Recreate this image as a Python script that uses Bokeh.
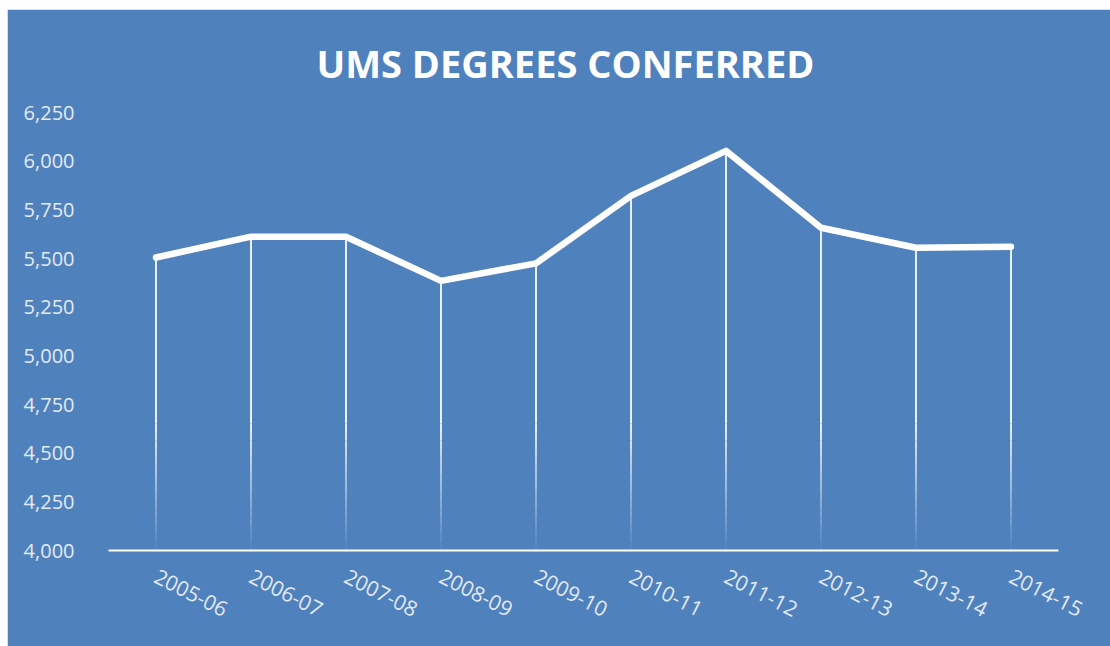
import numpy as np
from bokeh.plotting import figure
from bokeh.models import (ColumnDataSource, Range1d, FixedTicker, NumeralTickFormatter)
from bokeh.embed import file_html
from bokeh.resources import INLINE

# ---- data ----
years = ["2005-06", "2006-07", "2007-08", "2008-09", "2009-10",
         "2010-11", "2011-12", "2012-13", "2013-14", "2014-15"]
degrees = [5505, 5612, 5612, 5385, 5475, 5822, 6053, 5658, 5555, 5561]
y_ticks = [4000, 4250, 4500, 4750, 5000, 5250, 5500, 5750, 6000, 6250]
title_text = "UMS DEGREES CONFERRED"

BG = "#4F81BD"
LABEL = "#e4eaf3"
FONT = "Open Sans"

y_min, y_max = y_ticks[0], y_ticks[-1]

p = figure(x_range=years, y_range=Range1d(y_min, y_max),
           width=1103, height=637, output_backend="svg", toolbar_location=None,
           min_border_left=101, min_border_right=52, min_border_top=103, min_border_bottom=96)
p.margin = (9, 0, 0, 7)
p.background_fill_color = BG
p.border_fill_color = BG
p.outline_line_color = BG
p.outline_line_width = 2
p.xgrid.grid_line_color = None
p.ygrid.grid_line_color = None

# title
p.title.text = title_text
p.title.align = "left"
p.title.offset = 208
p.title.standoff = 47
p.title.text_color = "white"
p.title.text_font = FONT
p.title.text_font_style = "bold"
p.title.text_font_size = "38px"

# drop lines: solid upper part, fading lower part
fade_top = y_min + 0.29 * (y_max - y_min)
p.segment(x0=years, y0=degrees, x1=years, y1=[fade_top] * len(years),
          line_color="white", line_alpha=0.88, line_width=2)
levels = np.linspace(fade_top, y_min, 16)
alphas = np.linspace(0.85, 0.05, len(levels) - 1)
xs, y0s, y1s, als = [], [], [], []
for yr in years:
    for i in range(len(levels) - 1):
        xs.append(yr)
        y0s.append(levels[i])
        y1s.append(levels[i + 1])
        als.append(alphas[i])
fsrc = ColumnDataSource(dict(x=xs, y0=y0s, y1=y1s, a=als))
p.segment(x0="x", y0="y0", x1="x", y1="y1", source=fsrc,
          line_color="white", line_alpha="a", line_width=2, line_cap="butt")

# main line
p.line(years, degrees, line_color="white", line_width=6.5,
       line_cap="round", line_join="round")

# axes
p.yaxis.ticker = FixedTicker(ticks=y_ticks)
p.yaxis.formatter = NumeralTickFormatter(format="0,0")
p.yaxis.axis_line_color = None
p.yaxis.major_tick_line_color = None
p.yaxis.minor_tick_line_color = None
p.yaxis.major_label_standoff = 28
p.yaxis.major_label_text_color = LABEL
p.yaxis.major_label_text_font = FONT
p.yaxis.major_label_text_font_size = "20px"

p.xaxis.axis_line_color = "white"
p.xaxis.axis_line_width = 2
p.xaxis.major_tick_line_color = None
p.xaxis.minor_tick_line_color = None
p.xaxis.major_label_orientation = -0.47
p.xaxis.major_label_standoff = 18
p.xaxis.major_label_text_color = LABEL
p.xaxis.major_label_text_font = FONT
p.xaxis.major_label_text_font_size = "21px"

open("out.html", "w").write(file_html(p, INLINE))
